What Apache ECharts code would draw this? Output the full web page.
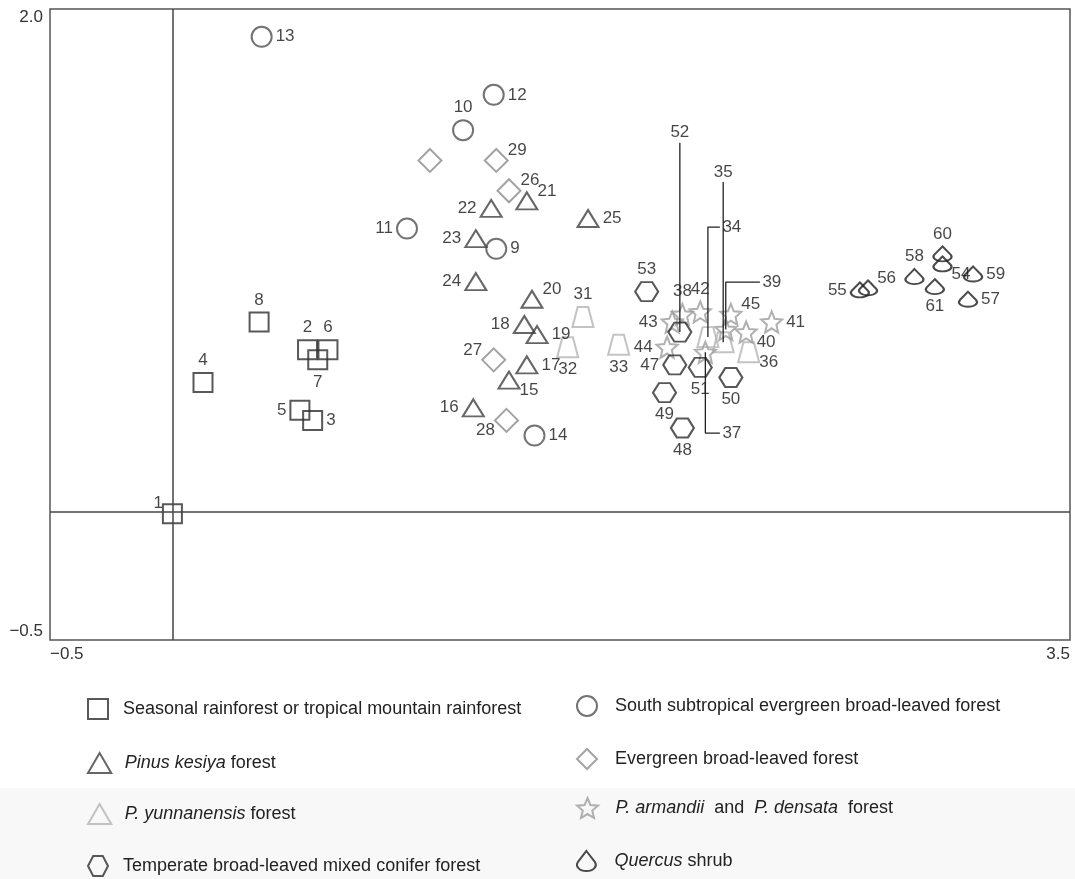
<!DOCTYPE html>
<html>
<head>
<meta charset="utf-8">
<title>Forest plots ordination</title>
<script src="https://cdn.jsdelivr.net/npm/echarts@6/dist/echarts.min.js"></script>
<style>
  html, body { margin: 0; padding: 0; background: #fff; }
  #chart { width: 1075px; height: 879px; }
</style>
</head>
<body>
<div id="chart"></div>
<script>
// legend / vegetation types
const groupNames = [
  'Seasonal rainforest or tropical mountain rainforest',
  'South subtropical evergreen broad-leaved forest',
  'Pinus kesiya forest',
  'Evergreen broad-leaved forest',
  'P. yunnanensis forest',
  'P. armandii and P. densata forest',
  'Temperate broad-leaved mixed conifer forest',
  'Quercus shrub'
];

// [axis 1, axis 2, plot no.]
const rainforest = [[-0.02, 0.00, '1'], [0.51, 0.65, '2'], [0.53, 0.37, '3'], [0.10, 0.52, '4'],
  [0.48, 0.41, '5'], [0.59, 0.65, '6'], [0.55, 0.61, '7'], [0.32, 0.76, '8']];
const subtropical = [[1.25, 1.05, '9'], [1.12, 1.52, '10'], [0.90, 1.13, '11'], [1.24, 1.66, '12'],
  [0.33, 1.89, '13'], [1.40, 0.31, '14']];
const pinusKesiya = [[1.30, 0.53, '15'], [1.16, 0.42, '16'], [1.37, 0.59, '17'], [1.36, 0.75, '18'],
  [1.41, 0.71, '19'], [1.39, 0.85, '20'], [1.37, 1.24, '21'], [1.23, 1.21, '22'], [1.17, 1.09, '23'],
  [1.17, 0.92, '24'], [1.61, 1.17, '25']];
const evergreen = [[1.30, 1.28, '26'], [1.24, 0.61, '27'], [1.29, 0.37, '28'], [1.25, 1.40, '29'],
  [0.99, 1.40, '']];
const yunnanensis = [[1.59, 0.78, '31'], [1.53, 0.66, '32'], [1.73, 0.67, '33'], [2.08, 0.70, '34'],
  [2.14, 0.68, '35'], [2.24, 0.64, '36']];
const armandii = [[2.07, 0.64, '37'], [1.98, 0.79, '38'], [2.15, 0.73, '39'], [2.23, 0.72, '40'],
  [2.33, 0.76, '41'], [2.05, 0.80, '42'], [1.94, 0.76, '43'], [1.92, 0.66, '44'], [2.17, 0.79, '45']];
const temperate = [[1.95, 0.59, '47'], [1.98, 0.34, '48'], [1.91, 0.48, '49'], [2.17, 0.54, '50'],
  [2.05, 0.58, '51'], [1.97, 0.72, '52'], [1.84, 0.88, '53']];
const quercus = [[3.00, 0.99, '54'], [2.676, 0.887, '55'], [2.708, 0.895, '56'], [3.10, 0.85, '57'],
  [2.89, 0.94, '58'], [3.12, 0.95, '59'], [3.00, 1.03, '60'], [2.97, 0.90, '61']];

// axis 1 / axis 2 reference lines
const originX = -0.02;
const originY = 0.01;

// leader lines: plot no., y of elbow/top, x of end (optional)
const leaders = [['52', 1.47], ['35', 1.315], ['34', 1.136, 2.127], ['39', 0.918, 2.284], ['37', 0.32, 2.127]];

const groups = [rainforest, subtropical, pinusKesiya, evergreen, yunnanensis, armandii, temperate, quercus];

const FONT = '"Liberation Sans", Arial, sans-serif';

const symbols = {
  square: 'path://M0,0 L10,0 L10,10 L0,10 Z',
  circle: 'circle',
  triangle: 'path://M5,0 L10,8.6 L0,8.6 Z',
  diamond: 'path://M5,0 L10,5 L5,10 L0,5 Z',
  trapezoid: 'path://M2.5,0 L7.5,0 L10,10 L0,10 Z',
  star: 'path://M10,0 L12.65,6.36 L19.51,6.91 L14.28,11.39 L15.88,18.09 L10,14.5 L4.12,18.09 L5.72,11.39 L0.49,6.91 L7.35,6.36 Z',
  hexagon: 'path://M0,5 L2.6,0 L7.4,0 L10,5 L7.4,10 L2.6,10 Z',
  shrub: 'path://M5,0 L9.3,5.6 C10.6,7.6 8.6,10 5,10 C1.4,10 -0.6,7.6 0.7,5.6 Z'
};

const groupStyle = [
  { symbol: symbols.square, size: 19, color: '#2e2e2e' },
  { symbol: symbols.circle, size: 20, color: '#505050' },
  { symbol: symbols.triangle, size: [21, 17], color: '#404040' },
  { symbol: symbols.diamond, size: 23, color: '#8c8c8c' },
  { symbol: symbols.trapezoid, size: [21, 20], color: '#b4b4b4' },
  { symbol: symbols.star, size: 21, color: '#9c9c9c' },
  { symbol: symbols.hexagon, size: [23, 19], color: '#2e2e2e' },
  { symbol: symbols.shrub, size: [18, 15], color: '#1e1e1e' }
];

// where each plot number sits relative to its symbol
const labelSide = {
  '1': 'tl', '2': 't', '3': 'r', '4': 't', '5': 'l', '6': 't', '7': 'b', '8': 't',
  '9': 'r', '10': 't', '11': 'l', '12': 'r', '13': 'r', '14': 'r',
  '15': 'br', '16': 'l', '17': 'r', '18': 'l', '19': 'r', '20': 'tr', '21': 'tr', '22': 'l',
  '23': 'l', '24': 'l', '25': 'r',
  '26': 'tr', '27': 'tl', '28': 'bl', '29': 'tr',
  '31': 't', '32': 'b', '33': 'b', '36': 'br',
  '38': 't', '40': 'br', '41': 'r', '42': 't', '43': 'l', '44': 'l', '45': 'tr',
  '47': 'l', '48': 'b', '49': 'b', '50': 'b', '51': 'b', '53': 't',
  '54': 'br', '55': 'l', '56': 'tr', '57': 'r', '58': 't', '59': 'r', '60': 't', '61': 'b'
};

function labelFor(id) {
  const s = labelSide[id];
  if (!s) return { show: false };
  const m = {
    t: { position: 'top' }, b: { position: 'bottom' },
    l: { position: 'left' }, r: { position: 'right' },
    tl: { position: 'left', offset: [4, -10] }, tr: { position: 'right', offset: [-4, -10] },
    bl: { position: 'left', offset: [4, 10] }, br: { position: 'right', offset: [-4, 10] }
  };
  return Object.assign({ show: true, formatter: id }, m[s]);
}

const pointById = {};
groups.forEach(g => g.forEach(p => { if (p[2]) pointById[p[2]] = p; }));

const labelText = { fontSize: 17, color: '#161616', fontFamily: FONT, distance: 3 };

const series = groups.map((g, i) => ({
  name: groupNames[i],
  type: 'scatter',
  symbol: groupStyle[i].symbol,
  symbolSize: groupStyle[i].size,
  itemStyle: { color: 'rgba(0,0,0,0)', borderColor: groupStyle[i].color, borderWidth: 2 },
  label: labelText,
  emphasis: { disabled: true },
  data: g.map(p => ({ value: [p[0], p[1]], name: p[2], label: labelFor(p[2]) }))
}));

// zero lines
series[0].markLine = {
  silent: true,
  symbol: ['none', 'none'],
  label: { show: false },
  lineStyle: { color: '#444', width: 1.5, type: 'solid' },
  data: [{ xAxis: originX }, { yAxis: originY }]
};

// leader lines for crowded plots
leaders.forEach(l => {
  const p = pointById[l[0]];
  const pts = [[p[0], p[1]], [p[0], l[1]]];
  if (l[2] !== undefined) pts.push([l[2], l[1]]);
  const end = pts[pts.length - 1];
  series.push({
    name: 'leader ' + l[0],
    type: 'line',
    silent: true,
    symbol: 'none',
    lineStyle: { color: '#222', width: 1.3 },
    data: pts
  });
  series.push({
    name: 'leader label ' + l[0],
    type: 'scatter',
    silent: true,
    symbolSize: 1,
    itemStyle: { color: 'rgba(0,0,0,0)' },
    label: Object.assign({}, labelText, {
      show: true,
      formatter: l[0],
      position: l[2] !== undefined ? 'right' : 'top',
      distance: l[2] !== undefined ? 2 : 1
    }),
    data: [end]
  });
});

function tickFmt(lo, hi) {
  return v => (Math.abs(v - lo) < 1e-9 || Math.abs(v - hi) < 1e-9)
    ? (v < 0 ? '\u2212' : '') + Math.abs(v).toFixed(1) : '';
}

const legendRich = {
  i: { fontStyle: 'italic', fontSize: 18, lineHeight: 20, fontFamily: FONT, color: '#222' }
};
function legendFmt(name) {
  if (name === 'Pinus kesiya forest') return '{i|Pinus kesiya} forest';
  if (name === 'P. yunnanensis forest') return '{i|P. yunnanensis} forest';
  if (name === 'P. armandii and P. densata forest') return '{i|P. armandii}  and  {i|P. densata}  forest';
  if (name === 'Quercus shrub') return '{i|Quercus} shrub';
  return name;
}

// one legend box per entry: [group index, left, top, icon width, icon override]
const legendSlots = [
  [0, 82, 693, 40], [2, 82, 747, 40], [4, 82, 798, 40, symbols.triangle], [6, 82, 850, 40],
  [1, 571, 690, 46], [3, 571, 743, 46], [5, 571, 792, 46], [7, 571, 845, 46]
];
const legends = legendSlots.map(s => ({
  left: s[1], top: s[2],
  orient: 'horizontal',
  selectedMode: false,
  itemWidth: s[3], itemHeight: 20,
  symbolKeepAspect: true,
  itemStyle: { borderWidth: 2 },
  formatter: legendFmt,
  textStyle: { fontSize: 18, color: '#222', fontFamily: FONT, lineHeight: 20, rich: legendRich },
  data: [s[4] ? { name: groupNames[s[0]], icon: s[4] } : groupNames[s[0]]]
}));

const chart = echarts.init(document.getElementById('chart'));
chart.setOption({
  animation: false,
  backgroundColor: '#fff',
  graphic: [{
    type: 'rect', silent: true, z: -10,
    shape: { x: 0, y: 788, width: 1075, height: 91 },
    style: { fill: '#f8f8f8' }
  }],
  grid: {
    left: 50, right: 5, top: 9, bottom: 239,
    show: true, borderColor: '#555', borderWidth: 1.5,
    outerBoundsMode: 'none'
  },
  xAxis: {
    type: 'value', min: -0.5, max: 3.5, interval: 0.5,
    splitLine: { show: false }, axisTick: { show: false }, axisLine: { show: false },
    axisLabel: {
      formatter: tickFmt(-0.5, 3.5), fontSize: 17, color: '#333', fontFamily: FONT, margin: 6,
      alignMinLabel: 'left', alignMaxLabel: 'right'
    }
  },
  yAxis: {
    type: 'value', min: -0.5, max: 2.0, interval: 0.5,
    splitLine: { show: false }, axisTick: { show: false }, axisLine: { show: false },
    axisLabel: {
      formatter: tickFmt(-0.5, 2.0), fontSize: 17, color: '#333', fontFamily: FONT, margin: 7,
      verticalAlignMinLabel: 'bottom', verticalAlignMaxLabel: 'top'
    }
  },
  legend: legends,
  series: series
});
</script>
</body>
</html>
